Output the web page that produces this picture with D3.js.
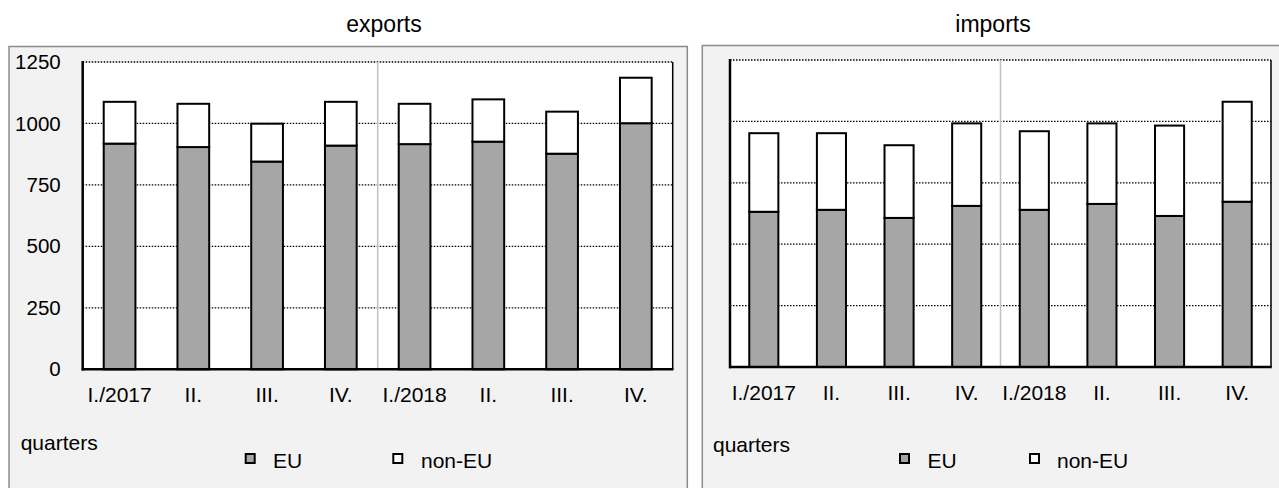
<!DOCTYPE html>
<html><head><meta charset="utf-8">
<script src="https://cdn.jsdelivr.net/npm/d3@7"></script>
<style>body{margin:0;background:#fff;} svg{display:block;font-family:"Liberation Sans",Arial,sans-serif;}</style>
</head><body><svg id="c" width="1279" height="488"></svg>
<script>
const quarters = ["I./2017","II.","III.","IV.","I./2018","II.","III.","IV."];
const exportsEU = [918, 904, 845, 910, 916, 926, 877, 1001];
const exportsNonEU = [170, 176, 154, 178, 164, 172, 171, 185];
const importsEU = [632, 640, 607, 656, 640, 664, 615, 673];
const importsNonEU = [320, 312, 296, 336, 320, 328, 368, 407];
const yTicks = [0, 250, 500, 750, 1000, 1250];
const seriesNames = ["EU", "non-EU"];
const seriesColors = ["#a6a6a6", "#ffffff"];
const titles = ["exports", "imports"];
const axisTitle = "quarters";

const svg = d3.select("#c");
const panels = [
  {title: titles[0], eu: exportsEU, non: exportsNonEU, box: [9, 46.5, 678.3, 460], plot: [82.7, 672.7, 62, 369.3],
   titleX: 384, yLabels: true, qX: 20.7, qY: 450, legX: [244.7, 392.3], legTX: [273, 421]},
  {title: titles[1], eu: importsEU, non: importsNonEU, box: [702.3, 45.5, 620, 460], plot: [730, 1271, 60, 367],
   titleX: 993, yLabels: false, qX: 713, qY: 451.5, legX: [899, 1029], legTX: [927.5, 1057]}
];

panels.forEach(p => {
  const g = svg.append("g");
  const [x0, x1, yT, yB] = p.plot;
  g.append("rect").attr("x", p.box[0]).attr("y", p.box[1]).attr("width", p.box[2]).attr("height", p.box[3])
    .attr("fill", "#f2f2f2").attr("stroke", "#8c8c8c").attr("stroke-width", 1.5);
  g.append("text").attr("x", p.titleX).attr("y", 31.5).attr("text-anchor", "middle")
    .attr("font-size", 23).attr("fill", "#000").text(p.title);

  const x = d3.scaleBand().domain(d3.range(quarters.length)).range([x0, x1])
    .paddingInner(0.57).paddingOuter(0.285);
  const y = d3.scaleLinear().domain([0, 1250]).range([yB, yT]);

  g.append("rect").attr("x", x0).attr("y", yT).attr("width", x1 - x0).attr("height", yB - yT).attr("fill", "#fff");

  // gridlines
  g.selectAll(".grid").data(yTicks.filter(v => v > 0)).join("line")
    .attr("x1", x0).attr("x2", x1).attr("y1", d => y(d)).attr("y2", d => y(d))
    .attr("stroke", "#000").attr("stroke-width", d => d === 1250 ? 1.5 : 1.2).attr("stroke-dasharray", "1.5,1.5");

  // divider between years
  const divX = (x(3) + x.bandwidth() + x(4)) / 2;
  g.append("line").attr("x1", divX).attr("x2", divX).attr("y1", yT).attr("y2", yB)
    .attr("stroke", "#c0c0c0").attr("stroke-width", 1.5);

  const rows = quarters.map((q, i) => ({i, EU: p.eu[i], "non-EU": p.non[i]}));
  const stacked = d3.stack().keys(seriesNames)(rows);
  stacked.forEach((s, si) => {
    g.selectAll(null).data(s).join("rect")
      .attr("x", d => x(d.data.i)).attr("width", x.bandwidth())
      .attr("y", d => y(d[1])).attr("height", d => y(d[0]) - y(d[1]))
      .attr("fill", seriesColors[si]).attr("stroke", "#000").attr("stroke-width", 2);
  });

  // frame
  g.append("line").attr("x1", x1).attr("x2", x1).attr("y1", yT).attr("y2", yB).attr("stroke", "#000").attr("stroke-width", 1.5);
  g.append("line").attr("x1", x0).attr("x2", x0).attr("y1", yT - 1).attr("y2", yB + 1.2).attr("stroke", "#000").attr("stroke-width", 2.5);
  g.append("line").attr("x1", x0 - 1).attr("x2", x1 + 0.75).attr("y1", yB).attr("y2", yB).attr("stroke", "#000").attr("stroke-width", 2.5);

  if (p.yLabels) {
    const ya = g.append("g").attr("transform", `translate(${x0},0)`)
      .call(d3.axisLeft(y).tickValues(yTicks).tickSize(0).tickPadding(22).tickFormat(d3.format("d")));
    ya.select(".domain").remove();
    ya.selectAll("text").attr("font-size", 20.5).attr("font-family", "Liberation Sans, Arial, sans-serif").attr("fill", "#000");
  }

  const xa = g.append("g").attr("transform", `translate(0,${yB})`)
    .call(d3.axisBottom(x).tickSize(0).tickFormat(i => quarters[i]));
  xa.select(".domain").remove();
  xa.selectAll("text").attr("y", 33.2).attr("dy", null).attr("font-size", 21)
    .attr("font-family", "Liberation Sans, Arial, sans-serif").attr("fill", "#000");

  g.append("text").attr("x", p.qX).attr("y", p.qY).attr("font-size", 21).attr("fill", "#000").text(axisTitle);

  seriesNames.forEach((n, i) => {
    g.append("rect").attr("x", p.legX[i] + 1).attr("y", 454).attr("width", 9).attr("height", 9)
      .attr("fill", seriesColors[i]).attr("stroke", "#000").attr("stroke-width", 2);
    g.append("text").attr("x", p.legTX[i]).attr("y", 467.5).attr("font-size", 21).attr("fill", "#000").text(n);
  });
});
</script></body></html>
